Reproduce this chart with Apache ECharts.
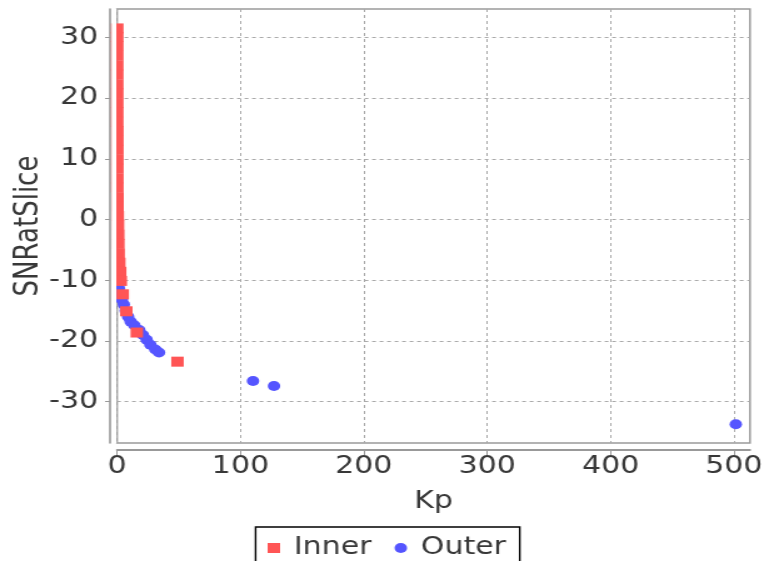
<!DOCTYPE html>
<html>
<head>
<meta charset="utf-8">
<script src="https://cdn.jsdelivr.net/npm/echarts@6/dist/echarts.min.js"></script>
<style>
html,body{margin:0;padding:0;background:#fff;overflow:hidden;width:764px;height:561px}
#c{width:611px;height:561px;transform:scaleX(1.25041);transform-origin:0 0}
</style>
</head>
<body>
<div id="c"></div>
<script>
var seriesNames = ['Inner', 'Outer'];
var innerKp = [0.2, 0.2, 0.2, 0.2, 0.2, 0.2, 0.2, 0.2, 0.2, 0.2, 0.2, 0.3, 0.3, 0.3, 0.3, 0.3, 0.3, 0.3, 0.4, 0.4, 0.6, 0.8, 1.0, 1.1, 1.3, 1.8, 2.5, 3.0, 4.6, 7.5, 16, 49];
var innerSNR = [31.5, 30.1, 28.6, 27.0, 25.4, 23.9, 22.3, 20.8, 19.2, 17.7, 16.1, 14.6, 13.0, 11.5, 9.9, 8.4, 6.8, 5.3, 3.7, 2.2, 0.6, -0.9, -2.5, -4.0, -5.6, -7.1, -8.6, -10.1, -12.3, -15.1, -18.6, -23.4];
var outerKp = [1.5, 2.5, 4, 5.5, 7, 9, 11, 14, 18, 21, 24, 27, 31, 34, 110.2, 127.2, 501.5];
var outerSNR = [-11.3, -12.4, -13.2, -14.0, -15.0, -16.0, -16.8, -17.4, -18.2, -19.0, -19.8, -20.6, -21.4, -21.9, -26.6, -27.4, -33.7];
var xTicks = [0, 100, 200, 300, 400, 500];
var yTicks = [-30, -20, -10, 0, 10, 20, 30];

function pairs(xs, ys) { return xs.map(function (x, i) { return [x, ys[i]]; }); }
function isTick(list, v) { return list.indexOf(Math.round(v * 1000) / 1000) >= 0; }

var FONT = 'DejaVu Sans';
var TXT = '#383838';
var GRID_LEFT = 93.6, GRID_TOP = 9, GRID_RIGHT = 11.2, GRID_BOTTOM = 118;
var chart = echarts.init(document.getElementById('c'), null, { renderer: 'canvas', width: 611, height: 561 });
chart.setOption({
  animation: false,
  backgroundColor: '#ffffff',
  grid: { left: GRID_LEFT, right: GRID_RIGHT, top: GRID_TOP, bottom: GRID_BOTTOM, containLabel: false, outerBoundsMode: 'none',
    show: true, borderColor: '#9a9a9a', borderWidth: 1.5, backgroundColor: '#ffffff' },
  xAxis: {
    type: 'value', min: 0, max: 513, offset: 7,
    name: 'Kp', nameLocation: 'middle', nameGap: 40, nameMoveOverlap: false,
    nameTextStyle: { fontFamily: FONT, fontSize: 24, color: TXT },
    axisLine: { show: true, onZero: false, lineStyle: { color: '#999', width: 1.8 } },
    axisTick: { show: true, length: 5, customValues: xTicks, lineStyle: { color: '#999' } },
    axisLabel: { fontFamily: FONT, fontSize: 24, color: TXT, margin: 5, customValues: xTicks,
      formatter: function (v) { return isTick(xTicks, v) ? String(v) : ''; } },
    splitLine: { show: true, lineStyle: { color: '#aaaaaa', type: [3, 3], width: 1 } }
  },
  yAxis: {
    type: 'value', min: -36.8, max: 34.7, splitNumber: 7, offset: 5.6,
    name: 'SNRatSlice', nameLocation: 'middle', nameGap: 52, nameMoveOverlap: false,
    nameTextStyle: { fontFamily: FONT, fontSize: 26, color: TXT },
    axisLine: { show: true, onZero: false, lineStyle: { color: '#999', width: 1.6 } },
    axisTick: { show: true, length: 4, customValues: yTicks, lineStyle: { color: '#999' } },
    axisLabel: { fontFamily: FONT, fontSize: 24, color: TXT, margin: 9.5, customValues: yTicks,
      formatter: function (v) { return isTick(yTicks, v) ? String(v) : ''; } },
    splitLine: { show: true, lineStyle: { color: '#aaaaaa', type: [3, 3], width: 1 } }
  },
  legend: {
    left: 204.4, top: 527, orient: 'horizontal',
    backgroundColor: '#fff', borderColor: '#000', borderWidth: 1.4,
    padding: [9, 11, 12, 9.6], itemGap: 18.4, itemWidth: 10, itemHeight: 10,
    textStyle: { fontFamily: FONT, fontSize: 24, color: TXT, padding: [0, 0, 0, 6] },
    data: [{ name: seriesNames[0], icon: 'rect' }, { name: seriesNames[1], icon: 'circle' }]
  },
  graphic: [{
    type: 'rect', z: 100, silent: true,
    shape: { x: 89.2, y: GRID_TOP, width: GRID_LEFT - 89.2 - 0.6, height: 561 - GRID_TOP - GRID_BOTTOM },
    style: { fill: '#ffffff' }
  }],
  series: [
    { name: seriesNames[1], type: 'scatter', symbol: 'circle', symbolSize: 10, clip: true,
      itemStyle: { color: '#5555FF', opacity: 1 }, data: pairs(outerKp, outerSNR), z: 2 },
    { name: seriesNames[0], type: 'scatter', symbol: 'rect', symbolSize: 10, clip: true,
      itemStyle: { color: '#FF5555', opacity: 1 }, data: pairs(innerKp, innerSNR), z: 3 }
  ]
});
</script>
</body>
</html>
